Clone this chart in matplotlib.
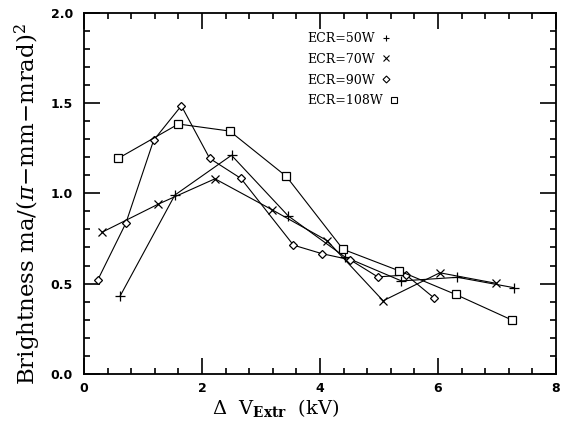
import matplotlib
matplotlib.use("Agg")
import matplotlib.pyplot as plt
from matplotlib.lines import Line2D
from matplotlib.ticker import MultipleLocator

# ---- data ----
x50 = [0.61, 1.54, 2.50, 3.46, 4.42, 5.38, 6.33, 7.28]
y50 = [0.43, 0.99, 1.21, 0.875, 0.648, 0.515, 0.535, 0.478]
x70 = [0.31, 1.26, 2.22, 3.18, 4.12, 5.07, 6.03, 6.98]
y70 = [0.785, 0.94, 1.08, 0.91, 0.738, 0.405, 0.56, 0.502]
x90 = [0.23, 0.71, 1.18, 1.65, 2.13, 2.66, 3.55, 4.03, 4.51, 4.98, 5.46, 5.94]
y90 = [0.518, 0.835, 1.293, 1.484, 1.193, 1.082, 0.713, 0.666, 0.632, 0.537, 0.548, 0.419]
x108 = [0.58, 1.60, 2.47, 3.43, 4.39, 5.34, 6.30, 7.25]
y108 = [1.193, 1.383, 1.344, 1.093, 0.690, 0.571, 0.440, 0.299]
labels = ["ECR=50W", "ECR=70W", "ECR=90W", "ECR=108W"]

plt.rcParams['mathtext.fontset'] = 'dejavuserif'

fig = plt.figure(figsize=(5.64, 4.28), dpi=100)
ax = fig.add_axes([84 / 564, 54 / 428, 472 / 564, 361.5 / 428])

lw = 0.8
ax.plot(x50, y50, color='black', lw=lw, marker='+', ms=6.5, mew=0.9)
ax.plot(x70, y70, color='black', lw=lw, marker='x', ms=5.5, mew=0.9)
ax.plot(x90, y90, color='black', lw=lw, marker='D', ms=4.2, mew=0.9, mfc='white')
ax.plot(x108, y108, color='black', lw=lw, marker='s', ms=5.8, mew=0.9, mfc='white')

ax.set_xlim(0, 8)
ax.set_ylim(0, 2)
ax.xaxis.set_major_locator(MultipleLocator(2))
ax.xaxis.set_minor_locator(MultipleLocator(0.4))
ax.yaxis.set_major_locator(MultipleLocator(0.5))
ax.yaxis.set_minor_locator(MultipleLocator(0.1))
ax.xaxis.set_major_formatter(plt.FuncFormatter(lambda v, p: f"{v:.0f}"))
ax.yaxis.set_major_formatter(plt.FuncFormatter(lambda v, p: f"{v:.1f}"))

for s in ax.spines.values():
    s.set_linewidth(1.3)
ax.tick_params(which='both', direction='in', top=True, right=True, width=1.2)
ax.tick_params(which='major', length=11.5)
ax.tick_params(which='minor', length=4.5)
ax.tick_params(axis='x', which='major', pad=6)
ax.tick_params(axis='y', which='major', pad=8)
for t in ax.get_xticklabels() + ax.get_yticklabels():
    t.set_fontsize(9)
    t.set_fontweight('bold')
    t.set_family('DejaVu Sans')

ax.set_xlabel(r"$\Delta$  V$_{\mathbf{Extr}}$  (kV)", family='DejaVu Serif', fontsize=14)
ax.xaxis.set_label_coords(0.405, -0.065)
ax.set_ylabel(r"Brightness ma/($\pi$$-$mm$-$mrad)$^2$", family='DejaVu Serif', fontsize=16.5)
ax.yaxis.set_label_coords(-0.087, 0.47)

handles = [
    Line2D([], [], color='black', ls='none', marker='+', ms=5, mew=0.8),
    Line2D([], [], color='black', ls='none', marker='x', ms=4.5, mew=0.8),
    Line2D([], [], color='black', ls='none', marker='D', ms=3.5, mew=0.8, mfc='white'),
    Line2D([], [], color='black', ls='none', marker='s', ms=4.5, mew=0.8, mfc='white'),
]
leg = ax.legend(handles, labels, loc='upper left', bbox_to_anchor=(0.472, 0.946),
                frameon=False, markerfirst=False, handlelength=0.8, handletextpad=0.5,
                labelspacing=0.62, borderpad=0, borderaxespad=0,
                prop={'family': 'DejaVu Serif', 'size': 9})
for col in leg._legend_handle_box.get_children():
    col.align = 'left'

fig.savefig("out.png", dpi=100)
